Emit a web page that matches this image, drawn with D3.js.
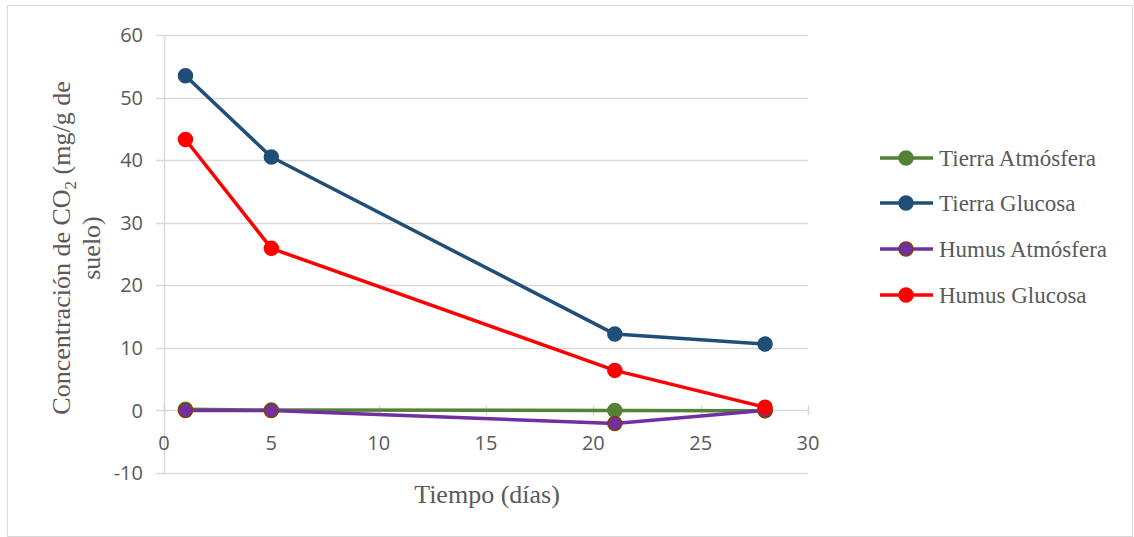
<!DOCTYPE html>
<html><head><meta charset="utf-8">
<script src="https://cdn.jsdelivr.net/npm/d3@7"></script>
<style>body{margin:0;background:#fff}svg{display:block}</style>
</head><body><svg id="c" width="1134" height="537"></svg>
<script>
const days = [1, 5, 21, 28];
const seriesNames = ["Tierra Atmósfera", "Tierra Glucosa", "Humus Atmósfera", "Humus Glucosa"];
const tierraAtmosfera = [0.2, 0.05, 0, -0.05];
const tierraGlucosa = [53.5, 40.5, 12.2, 10.6];
const humusAtmosfera = [0, 0, -2.1, 0];
const humusGlucosa = [43.3, 25.9, 6.4, 0.5];
const xTicks = [0, 5, 10, 15, 20, 25, 30];
const yTicks = [-10, 0, 10, 20, 30, 40, 50, 60];
const lineColors = ["#548235", "#1F4E79", "#7030A0", "#FF0000"];
const markerStroke = ["#548235", "#1F4E79", "#843C0C", "#FF0000"];

const svg = d3.select("#c");
svg.append("rect").attr("x", 7.5).attr("y", 5.5).attr("width", 1125).attr("height", 531)
  .attr("fill", "#fff").attr("stroke", "#d9d9d9");

const x = d3.scaleLinear().domain([0, 30]).range([164, 808]);
const y = d3.scaleLinear().domain([-10, 60]).range([473, 35]);

const g = svg.append("g");
yTicks.forEach(t => {
  g.append("line").attr("x1", 156).attr("x2", x(30)).attr("y1", Math.round(y(t)) + 0.5).attr("y2", Math.round(y(t)) + 0.5)
    .attr("stroke", "#d9d9d9").attr("stroke-width", 1.5);
});
g.append("line").attr("x1", x(0) + 0.5).attr("x2", x(0) + 0.5).attr("y1", y(60)).attr("y2", y(-10))
  .attr("stroke", "#d9d9d9").attr("stroke-width", 1.5);
xTicks.forEach(t => {
  g.append("line").attr("x1", Math.round(x(t)) + 0.5).attr("x2", Math.round(x(t)) + 0.5)
    .attr("y1", y(0) - 5).attr("y2", y(0) + 5).attr("stroke", "#d9d9d9").attr("stroke-width", 1.5);
});

const tickFont = "'Open Sans', 'Noto Sans', sans-serif";
yTicks.forEach(t => {
  svg.append("text").attr("x", 143).attr("y", y(t)).attr("dy", "0.36em").attr("text-anchor", "end")
    .attr("font-family", tickFont).attr("font-size", 20).attr("fill", "#595959").text(t);
});
xTicks.forEach(t => {
  svg.append("text").attr("x", x(t)).attr("y", y(0) + 40).attr("text-anchor", "middle")
    .attr("font-family", tickFont).attr("font-size", 20).attr("fill", "#595959").text(t);
});

const serif = "'Liberation Serif', 'DejaVu Serif', serif";
svg.append("text").attr("x", 487).attr("y", 503).attr("text-anchor", "middle")
  .attr("font-family", serif).attr("font-size", 26).attr("fill", "#595959").text("Tiempo (días)");
const yt = svg.append("text").attr("transform", "rotate(-90)")
  .attr("font-family", serif).attr("font-size", 26).attr("fill", "#595959").attr("text-anchor", "middle");
const t1 = yt.append("tspan").attr("x", -248).attr("y", 70);
t1.append("tspan").text("Concentración de CO");
t1.append("tspan").attr("font-size", 17).attr("dy", 6).text("2");
t1.append("tspan").attr("dy", -6).text(" (mg/g de");
yt.append("tspan").attr("x", -248).attr("y", 100).text("suelo)");

const allSeries = [tierraAtmosfera, tierraGlucosa, humusAtmosfera, humusGlucosa];
const line = d3.line().x((d, i) => x(days[i])).y(d => y(d));
allSeries.forEach((vals, si) => {
  svg.append("path").datum(vals).attr("d", line).attr("fill", "none")
    .attr("stroke", lineColors[si]).attr("stroke-width", 3.5).attr("stroke-linejoin", "round");
  vals.forEach((v, i) => {
    svg.append("circle").attr("cx", x(days[i])).attr("cy", y(v)).attr("r", 7)
      .attr("fill", lineColors[si]).attr("stroke", markerStroke[si]).attr("stroke-width", 1.5);
  });
});

const legY = [158, 203, 249, 295];
seriesNames.forEach((n, i) => {
  const ly = legY[i];
  svg.append("line").attr("x1", 880).attr("x2", 933).attr("y1", ly).attr("y2", ly)
    .attr("stroke", lineColors[i]).attr("stroke-width", 3.5);
  svg.append("circle").attr("cx", 906).attr("cy", ly).attr("r", 7)
    .attr("fill", lineColors[i]).attr("stroke", markerStroke[i]).attr("stroke-width", 1.5);
  svg.append("text").attr("x", 939).attr("y", ly).attr("dy", "0.33em")
    .attr("font-family", serif).attr("font-size", 23).attr("fill", "#595959").text(n);
});
</script></body></html>
